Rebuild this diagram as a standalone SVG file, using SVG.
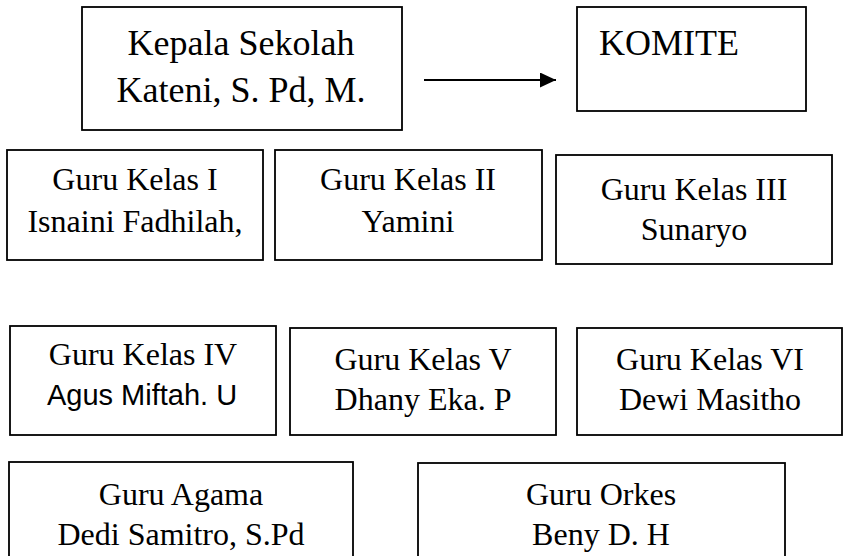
<svg xmlns="http://www.w3.org/2000/svg" width="844" height="556" viewBox="0 0 844 556">
<defs>
<style>
rect.box{fill:#fff;stroke:#000;stroke-width:1.8}
text{font-family:"Liberation Serif","Times New Roman",serif;fill:#000;text-anchor:middle}
.big{font-size:36px}
.t{font-size:32px}
.sans{font-family:"Liberation Sans",Arial,sans-serif;font-size:29px}
</style>
<marker id="arr" markerWidth="16" markerHeight="15" refX="16" refY="7.5" orient="auto" markerUnits="userSpaceOnUse">
<path d="M0,0 L16,7.5 L0,15 Z" fill="#000"/>
</marker>
</defs>
<rect width="844" height="556" fill="#fff"/>
<g id="connectors">
<line x1="424" y1="80" x2="556" y2="80" stroke="#000" stroke-width="2" marker-end="url(#arr)"/>
</g>
<g id="kepala">
<rect class="box" x="82" y="7" width="320" height="123"/>
<text class="big" x="241" y="55">Kepala Sekolah</text>
<text class="big" x="241" y="102">Kateni, S. Pd, M.</text>
</g>
<g id="komite">
<rect class="box" x="577" y="7" width="229" height="104"/>
<text class="big" x="599" y="55" style="text-anchor:start">KOMITE</text>
</g>
<g id="guru1">
<rect class="box" x="7" y="150" width="256" height="110"/>
<text class="t" x="135" y="190">Guru Kelas I</text>
<text class="t" x="135" y="232">Isnaini Fadhilah,</text>
</g>
<g id="guru2">
<rect class="box" x="275" y="150" width="267" height="110"/>
<text class="t" x="408" y="190">Guru Kelas II</text>
<text class="t" x="408" y="232">Yamini</text>
</g>
<g id="guru3">
<rect class="box" x="556" y="155" width="276" height="109"/>
<text class="t" x="694" y="200">Guru Kelas III</text>
<text class="t" x="694" y="240">Sunaryo</text>
</g>
<g id="guru4">
<rect class="box" x="10" y="326" width="266" height="109"/>
<text class="t" x="143" y="365">Guru Kelas IV</text>
<text class="sans" x="142" y="405">Agus Miftah. U</text>
</g>
<g id="guru5">
<rect class="box" x="290" y="328" width="266" height="107"/>
<text class="t" x="423" y="370">Guru Kelas V</text>
<text class="t" x="423" y="410">Dhany Eka. P</text>
</g>
<g id="guru6">
<rect class="box" x="577" y="328" width="265" height="107"/>
<text class="t" x="710" y="370">Guru Kelas VI</text>
<text class="t" x="710" y="410">Dewi Masitho</text>
</g>
<g id="agama">
<rect class="box" x="9" y="462" width="344" height="100"/>
<text class="t" x="181" y="505">Guru Agama</text>
<text class="t" x="181" y="545">Dedi Samitro, S.Pd</text>
</g>
<g id="orkes">
<rect class="box" x="418" y="463" width="367" height="100"/>
<text class="t" x="601" y="505">Guru Orkes</text>
<text class="t" x="601" y="545">Beny D. H</text>
</g>
</svg>
